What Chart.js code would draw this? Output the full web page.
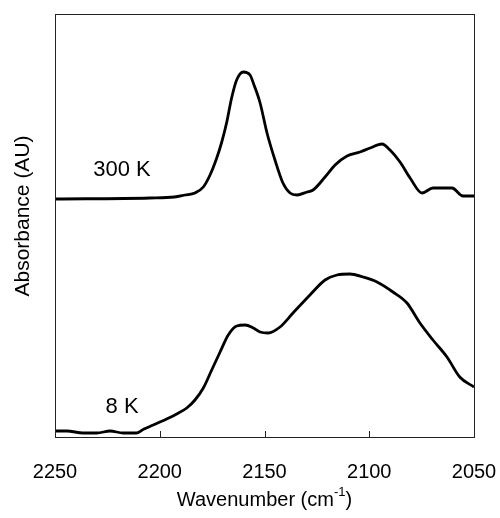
<!DOCTYPE html>
<html>
<head>
<meta charset="utf-8">
<script src="https://cdn.jsdelivr.net/npm/chart.js@4"></script>
<style>
  html, body { margin: 0; padding: 0; background: #fff; }
  #wrap { width: 500px; height: 518px; }
</style>
</head>
<body>
<div id="wrap"><canvas id="myChart"></canvas></div>
<script>
// spectra (absorbance in arbitrary units)
const wn300 = [2250, 2204.7, 2193, 2187.9, 2183.2, 2179.2, 2176.0, 2172.8, 2170.4, 2168.0, 2165.7, 2163.3, 2160.1, 2156.9, 2155.0, 2152.1, 2148.8, 2145.0, 2141.2, 2137.8, 2134.5, 2129.7, 2126.8, 2121.1, 2116.3, 2110.6, 2104.4, 2099.6, 2093.9, 2090.1, 2085.3, 2080.5, 2074.8, 2069.6, 2060.5, 2055.3, 2050];
const abs300 = [2.38, 2.39, 2.40, 2.42, 2.44, 2.50, 2.62, 2.79, 2.95, 3.15, 3.39, 3.57, 3.65, 3.62, 3.52, 3.34, 3.04, 2.77, 2.54, 2.44, 2.42, 2.45, 2.47, 2.60, 2.72, 2.81, 2.85, 2.89, 2.93, 2.87, 2.75, 2.59, 2.44, 2.49, 2.49, 2.41, 2.41];

const wn8 = [2250, 2244.3, 2236.6, 2230.0, 2223.7, 2217.5, 2211.0, 2207.5, 2203.1, 2196.7, 2191.9, 2187.1, 2183.2, 2179.2, 2175.2, 2171.2, 2167.3, 2163.3, 2159.3, 2155.3, 2152.1, 2148.3, 2142.6, 2136.4, 2128.3, 2121.1, 2115.4, 2109.2, 2103.0, 2096.3, 2088.7, 2082.0, 2075.8, 2069.6, 2062.9, 2056.8, 2050];
const abs8 = [0.06, 0.06, 0.04, 0.04, 0.06, 0.04, 0.04, 0.08, 0.12, 0.18, 0.23, 0.29, 0.37, 0.49, 0.67, 0.85, 1.02, 1.11, 1.12, 1.09, 1.05, 1.04, 1.10, 1.24, 1.42, 1.57, 1.62, 1.63, 1.60, 1.55, 1.45, 1.34, 1.14, 0.97, 0.80, 0.60, 0.50];

const xTicks = [2250, 2200, 2150, 2100, 2050];
const seriesLabels = ['300 K', '8 K'];
const labelPos = [[2218, 2.67], [2218, 0.30]];

const FONT = '"Liberation Sans", Arial, sans-serif';

const toPts = (xs, ys) => xs.map((x, i) => ({ x: x, y: ys[i] }));

// frame, inner tick marks, series labels and axis titles
const decor = {
  id: 'decor',
  afterDraw(chart) {
    const ctx = chart.ctx;
    const a = chart.chartArea;
    const xs = chart.scales.x;
    const ys = chart.scales.y;
    ctx.save();
    ctx.strokeStyle = '#222';
    ctx.lineWidth = 1;
    ctx.strokeRect(Math.round(a.left) + 0.5, Math.round(a.top) + 0.5, Math.round(a.right - a.left), Math.round(a.bottom - a.top));
    xTicks.slice(1, -1).forEach(t => {
      const px = Math.round(xs.getPixelForValue(t)) + 0.5;
      ctx.beginPath();
      ctx.moveTo(px, a.bottom);
      ctx.lineTo(px, a.bottom - 6);
      ctx.stroke();
    });

    ctx.fillStyle = '#000';
    ctx.textAlign = 'center';
    ctx.textBaseline = 'middle';
    ctx.font = '22px ' + FONT;
    seriesLabels.forEach((s, i) => {
      ctx.fillText(s, xs.getPixelForValue(labelPos[i][0]), ys.getPixelForValue(labelPos[i][1]));
    });

    // x title with superscript
    ctx.font = '20px ' + FONT;
    const t1 = 'Wavenumber (cm';
    const sup = '-1';
    const t3 = ')';
    const w1 = ctx.measureText(t1).width;
    const w3 = ctx.measureText(t3).width;
    ctx.font = '13px ' + FONT;
    const w2 = ctx.measureText(sup).width;
    const total = w1 + w2 + w3;
    let x0 = (a.left + a.right) / 2 - total / 2;
    const yT = 500;
    ctx.textAlign = 'left';
    ctx.font = '20px ' + FONT;
    ctx.fillText(t1, x0, yT);
    ctx.font = '13px ' + FONT;
    ctx.fillText(sup, x0 + w1, yT - 8);
    ctx.font = '20px ' + FONT;
    ctx.fillText(t3, x0 + w1 + w2, yT);

    // y title
    ctx.translate(23, 216);
    ctx.rotate(-Math.PI / 2);
    ctx.textAlign = 'center';
    ctx.font = '21px ' + FONT;
    ctx.fillText('Absorbance (AU)', 0, 0);
    ctx.restore();
  }
};

new Chart(document.getElementById('myChart'), {
  type: 'line',
  data: {
    datasets: [
      { label: seriesLabels[0], data: toPts(wn300, abs300) },
      { label: seriesLabels[1], data: toPts(wn8, abs8) }
    ]
  },
  options: {
    responsive: true,
    maintainAspectRatio: false,
    animation: false,
    events: [],
    layout: { padding: { top: 14, right: 26, left: 0, bottom: 0 } },
    elements: {
      point: { radius: 0 },
      line: { borderColor: '#000', borderWidth: 2.8, cubicInterpolationMode: 'monotone', fill: false }
    },
    plugins: { legend: { display: false }, tooltip: { enabled: false } },
    scales: {
      x: {
        type: 'linear',
        reverse: true,
        min: 2050,
        max: 2250,
        afterBuildTicks: s => { s.ticks = xTicks.map(v => ({ value: v })); },
        afterFit: s => { s.height = 81; s.paddingLeft = 0; s.paddingRight = 0; },
        grid: { display: false, drawTicks: false },
        border: { display: false },
        ticks: {
          color: '#000', padding: 23, maxRotation: 0, font: { family: FONT, size: 20 },
          callback: v => String(v)
        }
      },
      y: {
        min: 0,
        max: 4.23,
        afterFit: s => { s.width = 55; },
        grid: { display: false, drawTicks: false },
        border: { display: false },
        ticks: { display: false }
      }
    }
  },
  plugins: [decor]
});
</script>
</body>
</html>
